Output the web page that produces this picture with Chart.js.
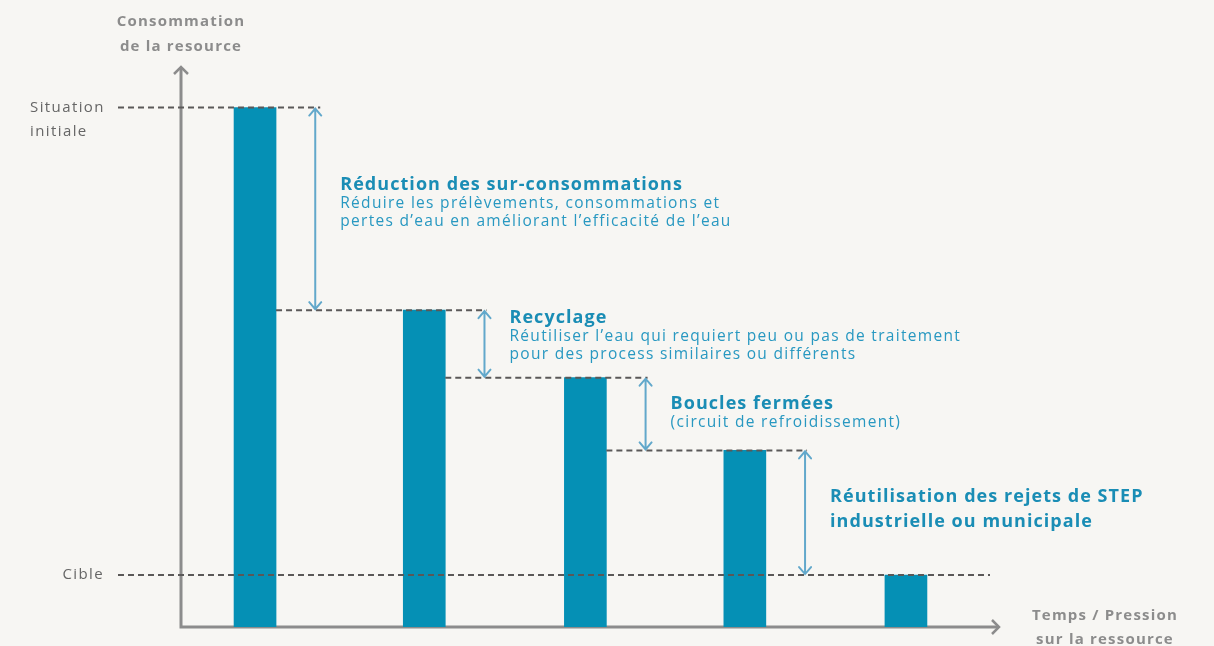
<!DOCTYPE html>
<html>
<head>
<meta charset="utf-8">
<script src="https://cdn.jsdelivr.net/npm/chart.js@4"></script>
<style>
  html, body { margin: 0; padding: 0; background: #f7f6f3; }
  #wrap { width: 1214px; height: 646px; }
</style>
</head>
<body>
<div id="wrap"><canvas id="waterChart" width="1214" height="646"></canvas></div>
<script>
// position of each step on the time axis and resource consumption there (Situation initiale = 100)
const steps = [1, 2.04, 3.03, 4.01, 5];
const consumption = [100, 61, 48, 34, 10];
const levelInitial = 100;
const levelTarget = 10;
const levelLabels = ['Situation', 'initiale'];
const targetLabel = 'Cible';
const yTitle = ['Consommation', 'de la resource'];
const xTitle = ['Temps / Pression', 'sur la ressource'];

// annotations for each reduction step (between bar i and bar i+1)
const stepTitles = [
  ['Réduction des sur-consommations'],
  ['Recyclage'],
  ['Boucles fermées'],
  ['Réutilisation des rejets de STEP', 'industrielle ou municipale']
];
const stepNotes = [
  ['Réduire les prélèvements, consommations et', 'pertes d\u2019eau en améliorant l\u2019efficacité de l\u2019eau'],
  ['Réutiliser l\u2019eau qui requiert peu ou pas de traitement', 'pour des process similaires ou différents'],
  ['(circuit de refroidissement)'],
  []
];
// vertical shift of each text block from the middle of its arrow (px)
const textShift = [-24, -26, -10, -16];

const BAR = '#0590b5';
const ARROW = '#62a8cb';
const TEAL_TXT = '#1a8db5';
const AXIS = '#8c8c8c';
const DASH = '#5a5858';
const FONT = '"Open Sans", sans-serif';

function drawArrow(ctx, x, y1, y2) {
  ctx.save();
  ctx.strokeStyle = ARROW;
  ctx.lineWidth = 2;
  ctx.lineCap = 'round';
  ctx.beginPath();
  ctx.moveTo(x, y1 + 1);
  ctx.lineTo(x, y2 - 1);
  // heads
  ctx.moveTo(x - 6, y1 + 8); ctx.lineTo(x, y1 + 1); ctx.lineTo(x + 6, y1 + 8);
  ctx.moveTo(x - 6, y2 - 8); ctx.lineTo(x, y2 - 1); ctx.lineTo(x + 6, y2 - 8);
  ctx.stroke();
  ctx.restore();
}

function dashLine(ctx, x1, x2, y) {
  ctx.save();
  ctx.strokeStyle = DASH;
  ctx.lineWidth = 2;
  ctx.setLineDash([6, 4]);
  ctx.beginPath();
  ctx.moveTo(x1, y);
  ctx.lineTo(x2, y);
  ctx.stroke();
  ctx.restore();
}

function setFont(ctx, weight, size, spacing) {
  ctx.font = weight + ' ' + size + 'px ' + FONT;
  if ('letterSpacing' in ctx) ctx.letterSpacing = spacing + 'px';
}

const decorPlugin = {
  id: 'decor',
  beforeDatasetsDraw(chart) {
    const ctx = chart.ctx;
    const a = chart.chartArea;
    ctx.save();
    ctx.strokeStyle = AXIS;
    ctx.lineWidth = 3;
    ctx.lineCap = 'butt';
    ctx.beginPath();
    ctx.moveTo(a.left, a.top + 2);
    ctx.lineTo(a.left, a.bottom);
    ctx.lineTo(a.right - 2, a.bottom);
    ctx.stroke();
    ctx.lineWidth = 2.5;
    ctx.beginPath();
    ctx.moveTo(a.left - 7, a.top + 8); ctx.lineTo(a.left, a.top + 1); ctx.lineTo(a.left + 7, a.top + 8);
    ctx.moveTo(a.right - 8, a.bottom - 7); ctx.lineTo(a.right - 1, a.bottom); ctx.lineTo(a.right - 8, a.bottom + 7);
    ctx.stroke();

    // axis titles
    ctx.fillStyle = AXIS;
    ctx.textBaseline = 'middle';
    ctx.textAlign = 'center';
    setFont(ctx, 'bold', 15, 1.2);
    ctx.fillText(yTitle[0], a.left, 22);
    ctx.fillText(yTitle[1], a.left, 47);
    ctx.fillText(xTitle[0], a.right + 105, 616);
    ctx.fillText(xTitle[1], a.right + 105, 640);
    ctx.restore();
  },
  afterDatasetsDraw(chart) {
    const ctx = chart.ctx;
    const xs = chart.scales.x;
    const ys = chart.scales.y;
    const meta = chart.getDatasetMeta(0);
    const half = meta.data[0].width / 2;

    // level labels
    const yInit = ys.getPixelForValue(levelInitial);
    const yTarget = ys.getPixelForValue(levelTarget);
    ctx.save();
    ctx.fillStyle = '#666';
    ctx.textBaseline = 'middle';
    setFont(ctx, 'normal', 15, 1.4);
    ctx.textAlign = 'left';
    ctx.fillText(levelLabels[0], 30, yInit);
    ctx.fillText(levelLabels[1], 30, yInit + 24);
    ctx.textAlign = 'right';
    ctx.fillText(targetLabel, 104, yTarget);
    ctx.restore();

    // target dashed line
    dashLine(ctx, 118, xs.right - 10, yTarget);

    for (let i = 0; i < steps.length - 1; i++) {
      const ax = xs.getPixelForValue(steps[i] + 0.37);
      const yTop = ys.getPixelForValue(consumption[i]);
      const yBot = ys.getPixelForValue(consumption[i + 1]);
      // dashed line at the top of each bar
      if (i === 0) dashLine(ctx, 118, ax + 5, yTop);
      if (i + 1 < steps.length - 1) {
        const startX = xs.getPixelForValue(steps[i]) + half;
        dashLine(ctx, startX, xs.getPixelForValue(steps[i + 1] + 0.37) + 2, yBot);
      }
      drawArrow(ctx, ax, yTop, yBot);

      // texts
      const tx = ax + 25;
      const titles = stepTitles[i];
      const notes = stepNotes[i];
      const ty = (yTop + yBot) / 2 + textShift[i];
      ctx.save();
      ctx.textBaseline = 'middle';
      ctx.textAlign = 'left';
      ctx.fillStyle = TEAL_TXT;
      setFont(ctx, 'bold', 18, 1.05);
      titles.forEach((t, k) => ctx.fillText(t, tx, ty + k * 25));
      ctx.fillStyle = '#2898c1';
      setFont(ctx, 'normal', 15.5, 1.3);
      notes.forEach((t, k) => ctx.fillText(t, tx, ty + 19 + k * 18));
      ctx.restore();
    }
  }
};

new Chart(document.getElementById('waterChart'), {
  type: 'bar',
  data: {
    datasets: [{
      data: steps.map((s, i) => ({ x: s, y: consumption[i] })),
      backgroundColor: BAR,
      borderWidth: 0,
      barThickness: 42
    }]
  },
  options: {
    responsive: false,
    animation: false,
    events: [],
    layout: { padding: { left: 181, right: 214, top: 66, bottom: 19 } },
    plugins: { legend: { display: false }, tooltip: { enabled: false } },
    scales: {
      x: { type: 'linear', offset: false, min: 0.545, max: 5.578, display: false },
      y: { min: 0, max: 108, display: false }
    }
  },
  plugins: [decorPlugin]
});
</script>
</body>
</html>
